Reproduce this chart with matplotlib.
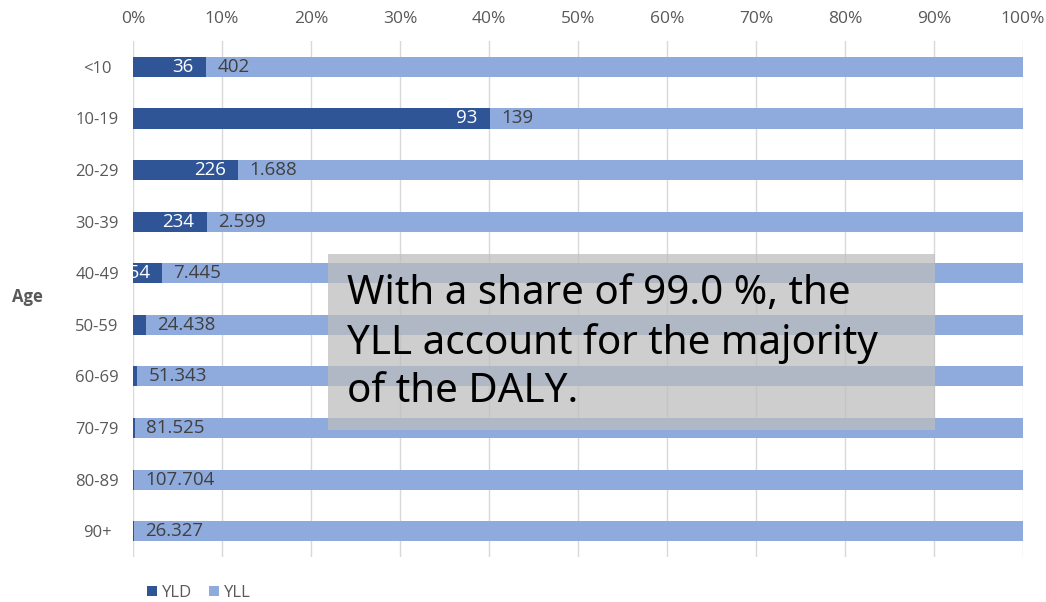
import matplotlib
matplotlib.use("Agg")
import matplotlib.pyplot as plt
import numpy as np
from matplotlib.patches import Rectangle

ages = ["<10", "10-19", "20-29", "30-39", "40-49", "50-59", "60-69", "70-79", "80-89", "90+"]
yld = [36, 93, 226, 234, 254, 350, 240, 200, 120, 30]
yll = [402, 139, 1688, 2599, 7445, 24438, 51343, 81525, 107704, 26327]
xticks = [0, 10, 20, 30, 40, 50, 60, 70, 80, 90, 100]
note = "With a share of 99.0 %, the\nYLL account for the majority\nof the DALY."

plt.rcParams['font.family'] = ['Open Sans', 'DejaVu Sans']

DARK = "#2F5597"
LIGHT = "#8FAADC"
GRID = "#D9D9D9"
TXT = "#595959"

def fmt(v):
    return f"{v:,}".replace(",", ".")

fig = plt.figure(figsize=(10.46, 6.02), dpi=100)
ax = fig.add_axes([0.1272, 0.0748, 0.8509, 0.857])

yld_a = np.array(yld, float)
yll_a = np.array(yll, float)
tot = yld_a + yll_a
p_yld = yld_a / tot * 100
p_yll = yll_a / tot * 100
ypos = np.arange(len(ages))
h = 0.39

b1 = ax.barh(ypos, p_yld, height=h, color=DARK, label="YLD", zorder=3)
b2 = ax.barh(ypos, p_yll, left=p_yld, height=h, color=LIGHT, label="YLL", zorder=3)

for i in range(len(ages)):
    if p_yld[i] >= 3.0:  # labels of very thin segments are hidden in the original
        t = ax.annotate(str(yld[i]), xy=(p_yld[i], ypos[i]), xytext=(-9, 0),
                        textcoords="offset points", ha="right", va="center",
                        color="white", fontsize=13.5, zorder=4)
        t.set_clip_box(ax.bbox)
        t.set_clip_on(True)
    ax.annotate(fmt(yll[i]), xy=(p_yld[i], ypos[i]), xytext=(8, 0),
                textcoords="offset points", ha="left", va="center",
                color="#404040", fontsize=13.5, zorder=4)

ax.set_xlim(0, 100)
ax.set_ylim(len(ages) - 0.5, -0.5)
ax.set_xticks(xticks)
ax.set_xticklabels([f"{v}%" for v in xticks])
ax.xaxis.tick_top()
ax.set_yticks(ypos)
ax.set_yticklabels(ages, ha="center")
ax.tick_params(axis="both", length=0, colors=TXT, labelsize=12.5)
ax.tick_params(axis="y", labelsize=12)
ax.tick_params(axis="x", pad=10)
ax.tick_params(axis="y", pad=26)
ax.grid(axis="x", color=GRID, linewidth=1, zorder=0)
ax.set_axisbelow(True)
for s in ax.spines.values():
    s.set_visible(False)

fig.text(27 / 1046, 1 - 297 / 602, "Age", ha="center", va="center",
         fontsize=12, fontweight="bold", color=TXT)

# overlay note box
box = Rectangle((328 / 1046, 1 - 430 / 602), (935 - 328) / 1046, (430 - 254) / 602,
                transform=fig.transFigure, facecolor="#BDBDBD", alpha=0.73,
                edgecolor="none", zorder=10)
fig.add_artist(box)
fig.text(347 / 1046, 1 - 343 / 602, note, ha="left", va="center",
         fontsize=29, color="black", linespacing=1.27, zorder=11,
         family=['Noto Sans', 'DejaVu Sans'])

# legend
leg = fig.legend(handles=[b1, b2], labels=["YLD", "YLL"], loc="center left",
                 bbox_to_anchor=(147 / 1046, 1 - 593 / 602), ncol=2, frameon=False,
                 fontsize=12, handlelength=0.6, handleheight=0.6, handletextpad=0.3,
                 columnspacing=1.0, borderaxespad=0, borderpad=0)
for t in leg.get_texts():
    t.set_color(TXT)

fig.savefig("out.png", dpi=100)
